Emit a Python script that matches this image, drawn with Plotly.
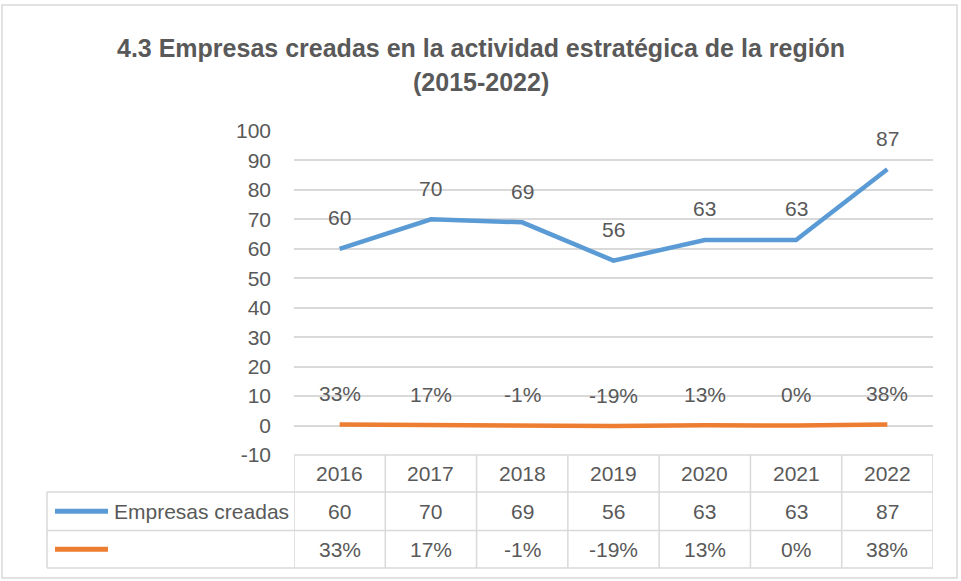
import plotly.graph_objects as go

# ---- data ----
years = ["2016", "2017", "2018", "2019", "2020", "2021", "2022"]
empresas = [60, 70, 69, 56, 63, 63, 87]
variacion = [0.33, 0.17, -0.01, -0.19, 0.13, 0.00, 0.38]
series_name = "Empresas creadas"
title_l1 = "4.3 Empresas creadas en la actividad estratégica de la región"
title_l2 = "(2015-2022)"
y_ticks = list(range(-10, 101, 10))

# ---- geometry (pixels) ----
W, H = 961, 581
L, R, T, B = 294, 933, 131, 455

def pxx(x):
    return (x - L) / (R - L)

def pyy(y):
    return (B - y) / (B - T)

BLUE = "#5B9BD5"
ORANGE = "#ED7D31"
GRID = "#D9D9D9"
TXT = "#595959"
FONT = "Liberation Sans"
FS = 21

xs = list(range(len(years)))

fig = go.Figure()
fig.add_trace(go.Scatter(x=xs, y=empresas, mode="lines", name=series_name,
                         line=dict(color=BLUE, width=4.5), hoverinfo="skip"))
fig.add_trace(go.Scatter(x=xs, y=variacion, mode="lines", name="",
                         line=dict(color=ORANGE, width=4.5), hoverinfo="skip"))

def pct(v):
    return f"{round(v * 100):d}%"

ann = []
# data labels
for i, v in enumerate(empresas):
    ann.append(dict(x=i, y=v, xref="x", yref="y", text=str(v), showarrow=False,
                    xanchor="center", yanchor="middle", yshift=31,
                    font=dict(size=FS, color=TXT, family=FONT)))
for i, v in enumerate(variacion):
    ann.append(dict(x=i, y=v, xref="x", yref="y", text=pct(v), showarrow=False,
                    xanchor="center", yanchor="middle", yshift=31,
                    font=dict(size=FS, color=TXT, family=FONT)))

# title (two lines)
for txt, yc in [(title_l1, 48), (title_l2, 82)]:
    ann.append(dict(x=pxx(W / 2), y=pyy(yc), xref="paper", yref="paper", text=f"<b>{txt}</b>",
                    showarrow=False, xanchor="center", yanchor="middle",
                    font=dict(size=25, color=TXT, family=FONT)))

# table rows
row_lines = [455, 492, 530.5, 568]
row_centers = [(row_lines[k] + row_lines[k + 1]) / 2 for k in range(3)]
for i, yr in enumerate(years):
    for txt, rc in [(yr, row_centers[0]), (str(empresas[i]), row_centers[1]),
                    (pct(variacion[i]), row_centers[2])]:
        ann.append(dict(x=i, y=pyy(rc), xref="x", yref="paper", text=txt, showarrow=False,
                        xanchor="center", yanchor="middle",
                        font=dict(size=FS, color=TXT, family=FONT)))
ann.append(dict(x=pxx(112), y=pyy(row_centers[1]), xref="paper", yref="paper", text=series_name,
                showarrow=False, xanchor="left", yanchor="middle",
                font=dict(size=FS, color=TXT, family=FONT)))

shapes = []
# outer border
shapes.append(dict(type="rect", xref="paper", yref="paper", x0=pxx(2), x1=pxx(957),
                   y0=pyy(5), y1=pyy(578), line=dict(color=GRID, width=1.5), layer="below"))
# table horizontal lines
shapes.append(dict(type="line", xref="paper", yref="paper", x0=0, x1=1, y0=pyy(row_lines[0]),
                   y1=pyy(row_lines[0]), line=dict(color=GRID, width=1.5)))
for yl in row_lines[1:]:
    shapes.append(dict(type="line", xref="paper", yref="paper", x0=pxx(47), x1=1, y0=pyy(yl),
                       y1=pyy(yl), line=dict(color=GRID, width=1.5)))
# vertical lines
for k in range(len(years) + 1):
    shapes.append(dict(type="line", xref="x", yref="paper", x0=k - 0.5, x1=k - 0.5,
                       y0=pyy(row_lines[0]), y1=pyy(row_lines[-1]), line=dict(color=GRID, width=1.5)))
shapes.append(dict(type="line", xref="paper", yref="paper", x0=pxx(47), x1=pxx(47),
                   y0=pyy(row_lines[1]), y1=pyy(row_lines[-1]), line=dict(color=GRID, width=1.5)))
# legend keys
for col, rc in [(BLUE, row_centers[1]), (ORANGE, row_centers[2])]:
    shapes.append(dict(type="line", xref="paper", yref="paper", x0=pxx(55), x1=pxx(108),
                       y0=pyy(rc), y1=pyy(rc), line=dict(color=col, width=5)))

fig.update_layout(
    width=W, height=H,
    margin=dict(l=L, r=W - R, t=T, b=H - B, pad=0),
    paper_bgcolor="white", plot_bgcolor="white",
    showlegend=False,
    annotations=ann, shapes=shapes,
    xaxis=dict(range=[-0.5, len(years) - 0.5], showticklabels=False, showgrid=False,
               zeroline=False, showline=False, fixedrange=True),
    yaxis=dict(range=[-10, 100], tickvals=y_ticks, ticktext=[str(t) for t in y_ticks],
               showgrid=True, gridcolor=GRID, gridwidth=1.5, zeroline=False, showline=False,
               tickfont=dict(size=FS, color=TXT, family=FONT), ticks="", ticklabelstandoff=22,
               fixedrange=True),
)

fig.write_html("out.html", config={"displayModeBar": False},
               post_script="document.body.style.margin='0';document.body.style.padding='0';")
